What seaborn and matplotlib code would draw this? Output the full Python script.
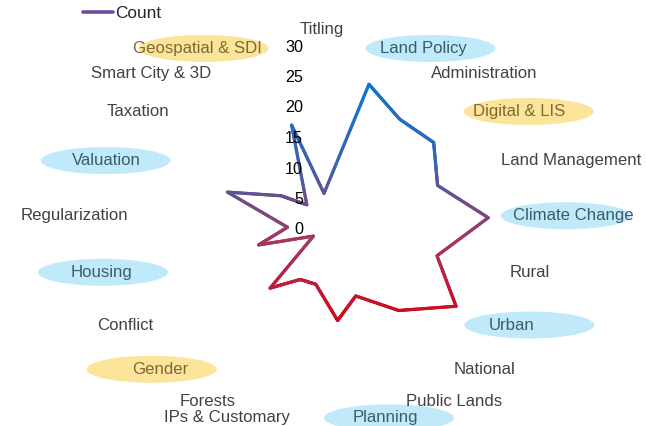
import numpy as np
import matplotlib
matplotlib.use('Agg')
import matplotlib.pyplot as plt
import seaborn as sns
from matplotlib.collections import LineCollection
from matplotlib.patches import Ellipse
from matplotlib.lines import Line2D

# data
categories = ['Titling', 'Land Policy', 'Administration', 'Digital & LIS', 'Land Management',
              'Climate Change', 'Rural', 'Urban', 'National', 'Public Lands', 'Planning',
              'IPs & Customary', 'Forests', 'Gender', 'Conflict', 'Housing', 'Regularization',
              'Valuation', 'Taxation', 'Smart City & 3D', 'Geospatial & SDI']
counts = [6, 25, 22, 23, 20, 27, 19, 25, 18, 12, 15, 9, 9, 13, 2, 11, 6, 17, 9, 5, 18]
r_ticks = [0, 5, 10, 15, 20, 25, 30]
blue_tags = ['Land Policy', 'Climate Change', 'Urban', 'Planning', 'Housing', 'Valuation']
yellow_tags = ['Geospatial & SDI', 'Digital & LIS', 'Gender']

# styling
W, H = 646, 426
blue_fill, yellow_fill = '#c0e9f9', '#fce49a'
blue_text, yellow_text, plain_text = '#3a5d6d', '#7d6a32', '#424242'
tag_shift = {'Geospatial & SDI': 6, 'Land Policy': 7, 'Digital & LIS': 10, 'Climate Change': -8,
             'Urban': 18, 'Planning': 4, 'Gender': -9, 'Housing': 1, 'Valuation': -1}
line_cmap = sns.blend_palette(['#1174cf', '#3a63b3', '#a5375f', '#d2081a'], as_cmap=True)

sns.set_theme(style='white')
plt.rcParams['font.family'] = ['Liberation Sans', 'DejaVu Sans']

fig = plt.figure(figsize=(W / 100, H / 100), dpi=100)
ax = fig.add_axes([141 / W, 13 / H, 366 / W, 366 / H], projection='polar')
ax.set_theta_zero_location('N')
ax.set_theta_direction(-1)
ax.grid(False)
ax.spines['polar'].set_visible(False)
ax.patch.set_alpha(0)

n = len(categories)
theta = np.linspace(0, 2 * np.pi, n, endpoint=False)
vals = np.array(counts, dtype=float)

# gradient polygon: split each edge into short pieces, colour by height
xs = np.append(vals * np.sin(theta), vals[0] * np.sin(theta[0]))
ys = np.append(vals * np.cos(theta), vals[0] * np.cos(theta[0]))
segs, heights = [], []
t = np.linspace(0, 1, 41)
for i in range(n):
    px = xs[i] + (xs[i + 1] - xs[i]) * t
    py = ys[i] + (ys[i + 1] - ys[i]) * t
    th = np.arctan2(px, py)
    rr = np.hypot(px, py)
    for j in range(len(t) - 1):
        segs.append([(th[j], rr[j]), (th[j + 1], rr[j + 1])])
        heights.append((py[j] + py[j + 1]) / 2)
heights = np.array(heights)
norm = (heights.max() - heights) / (heights.max() - heights.min())
lc = LineCollection(segs, colors=line_cmap(norm), linewidths=2.3,
                    capstyle='round', joinstyle='round', zorder=2)
ax.add_collection(lc)

ax.set_ylim(0, 30)
ax.set_xticks([])
ax.set_yticks([])

# radial tick labels on the left of the vertical axis
for v in r_ticks:
    ax.annotate(str(v), xy=(0, v), xytext=(-21, 0), textcoords='offset pixels',
                ha='right', va='center', fontsize=11.6, color='black', zorder=3)

# category labels
label_r = 31.15
texts = {}
for k, cat in enumerate(categories):
    ang = theta[k]
    if k == 0:
        ha, va, off = 'center', 'bottom', (-2, 3)
    elif ang < np.pi:
        ha, va, off = 'left', 'center', (0, 0)
    else:
        ha, va, off = 'right', 'center', (-6, 0)
    if cat in blue_tags:
        col = blue_text
    elif cat in yellow_tags:
        col = yellow_text
    else:
        col = plain_text
    texts[cat] = ax.annotate(cat, xy=(ang, label_r), xytext=off, textcoords='offset pixels',
                             ha=ha, va=va, fontsize=12.1, color=col, zorder=3,
                             annotation_clip=False)

# legend
fig.legend(handles=[Line2D([], [], color='#6a4c9c', lw=2.6)], labels=['Count'],
           loc='upper left', bbox_to_anchor=(83 / W, 1 - 6 / H), frameon=False,
           borderpad=0, borderaxespad=0, handlelength=1.75, handletextpad=0.1,
           fontsize=12.4)

# fixed-size ellipses behind the highlighted labels
fig.canvas.draw()
renderer = fig.canvas.get_renderer()
to_fig = fig.transFigure.inverted()
for cat in blue_tags + yellow_tags:
    bb = texts[cat].get_window_extent(renderer)
    cx, cy = to_fig.transform(((bb.x0 + bb.x1) / 2 + tag_shift.get(cat, 0),
                               (bb.y0 + bb.y1) / 2))
    fill = blue_fill if cat in blue_tags else yellow_fill
    ax.add_artist(Ellipse((cx, cy), 130 / W, 27 / H, transform=fig.transFigure,
                          facecolor=fill, edgecolor='none', zorder=1, clip_on=False))

fig.savefig('out.png', dpi=100)
